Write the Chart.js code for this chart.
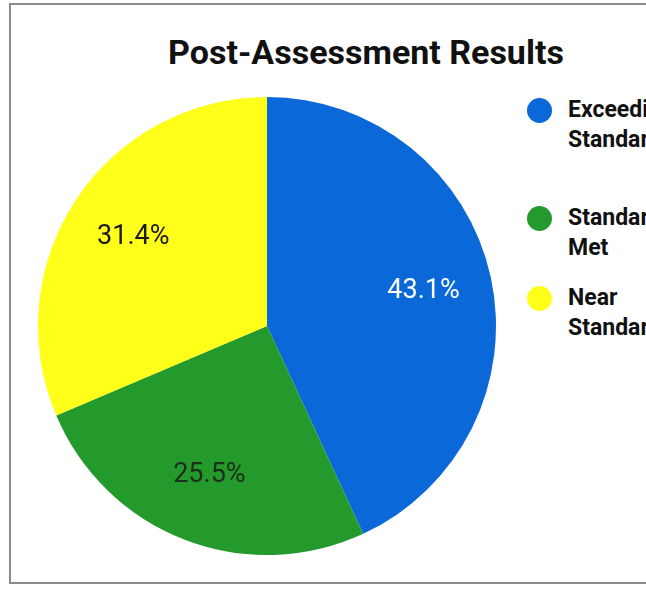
<!DOCTYPE html>
<html>
<head>
<meta charset="utf-8">
<script src="https://cdn.jsdelivr.net/npm/chart.js@4.4.1/dist/chart.umd.min.js"></script>
<style>
  html, body { margin: 0; padding: 0; background: #fff; overflow: hidden; width: 646px; height: 591px; }
  #frame {
    position: absolute; left: 9px; top: 3px; width: 760px; height: 581px;
    border: 2px solid #8c8c8c; box-sizing: border-box;
  }
  #title {
    position: absolute; left: 0; top: 34px; width: 732px; text-align: center;
    font-family: Roboto, sans-serif; font-weight: bold; font-size: 34px; line-height: 36px; color: #111;
    white-space: nowrap;
  }
  #pieCanvas { position: absolute; left: 28px; top: 87px; }
  .leg-item { position: absolute; left: 527px; }
  .leg-dot { position: absolute; left: 0; width: 25px; height: 25px; border-radius: 50%; }
  .leg-text {
    position: absolute; left: 41px; width: 120px;
    font-family: Roboto, sans-serif; font-weight: bold; font-size: 23px; line-height: 30px; color: #111;
  }
</style>
</head>
<body>
<div id="frame"></div>
<div id="title">Post-Assessment Results</div>
<canvas id="pieCanvas" width="478" height="478"></canvas>
<div id="legend"></div>
<script>
// data
const categories = ['Exceeding Standards', 'Standards Met', 'Near Standards'];
const percents = [43.1, 25.5, 31.4];
const sliceColors = ['#0a68d8', '#239a2b', '#ffff1a'];
const labelColors = ['#ffffff', '#1c2e1c', '#1a1a1a'];
// legend item vertical centres (reference layout)
const legendY = [110, 218, 298];

// percent labels drawn inside slices
const sliceLabels = {
    id: 'sliceLabels',
    afterDatasetsDraw(chart) {
        const ctx = chart.ctx;
        const meta = chart.getDatasetMeta(0);
        ctx.save();
        ctx.font = '27px Roboto, sans-serif';
        ctx.textAlign = 'center';
        ctx.textBaseline = 'middle';
        meta.data.forEach((arc, i) => {
            const p = arc.getProps(['x', 'y', 'startAngle', 'endAngle', 'outerRadius'], true);
            const mid = (p.startAngle + p.endAngle) / 2;
            const r = p.outerRadius * 0.7;
            ctx.fillStyle = labelColors[i];
            ctx.fillText(percents[i].toFixed(1) + '%', p.x + Math.cos(mid) * r, p.y + Math.sin(mid) * r);
        });
        ctx.restore();
    }
};

const chart = new Chart(document.getElementById('pieCanvas'), {
    type: 'pie',
    data: {
        labels: categories,
        datasets: [{
            data: percents,
            backgroundColor: sliceColors,
            borderWidth: 0,
            hoverOffset: 0
        }]
    },
    options: {
        responsive: false,
        animation: false,
        layout: { padding: 10 },
        plugins: {
            legend: { display: false },
            title: { display: false },
            tooltip: { enabled: false }
        }
    },
    plugins: [sliceLabels]
});

// html legend built from the chart data
const legend = document.getElementById('legend');
chart.data.labels.forEach((label, i) => {
    const item = document.createElement('div');
    item.className = 'leg-item';
    item.style.top = legendY[i] + 'px';
    const dot = document.createElement('div');
    dot.className = 'leg-dot';
    dot.style.top = '-12px';
    dot.style.background = chart.data.datasets[0].backgroundColor[i];
    const text = document.createElement('div');
    text.className = 'leg-text';
    text.style.top = '-15px';
    text.textContent = label;
    item.appendChild(dot);
    item.appendChild(text);
    legend.appendChild(item);
});
</script>
</body>
</html>
